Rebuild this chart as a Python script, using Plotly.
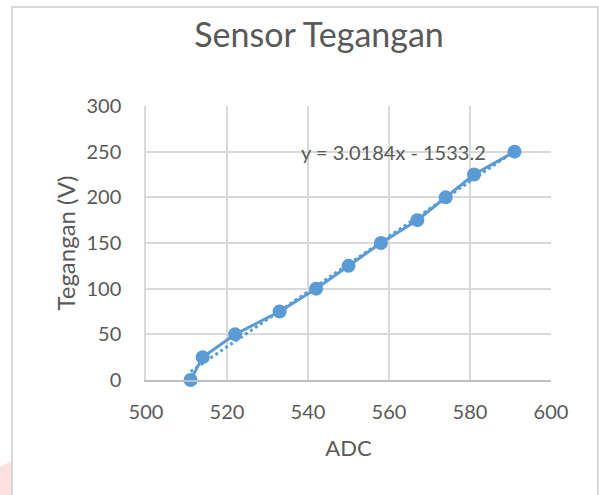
import plotly.graph_objects as go

adc = [511, 514, 522, 533, 542, 550, 558, 567, 574, 581, 591]
tegangan = [0, 25, 50, 75, 100, 125, 150, 175, 200, 225, 250]
slope = 3.0184
intercept = -1533.2
equation_label = "y = 3.0184x - 1533.2"
x_ticks = [500, 520, 540, 560, 580, 600]
y_ticks = [0, 50, 100, 150, 200, 250, 300]

W, H = 599, 495
L, R, T, B = 146, 48, 106, 115
pw, ph = W - L - R, H - T - B

def px(x):
    return (x - L) / pw

def py(y):
    return (H - B - y) / ph

blue = "#5B9BD5"
grey_text = "#595959"
grid = "#D9D9D9"
font = "Lato"

trend_x = [min(adc), max(adc)]
trend_y = [slope * v + intercept for v in trend_x]

fig = go.Figure()
fig.add_trace(go.Scatter(x=trend_x, y=trend_y, mode="lines",
                         line=dict(color=blue, width=3, dash="dot"),
                         hoverinfo="skip", showlegend=False, cliponaxis=False))
fig.add_trace(go.Scatter(x=adc, y=tegangan, mode="lines+markers",
                         line=dict(color=blue, width=3),
                         marker=dict(color=blue, size=14),
                         showlegend=False, cliponaxis=False))

fig.add_annotation(x=561, y=250, text=equation_label, showarrow=False,
                   xref="x", yref="y", font=dict(family=font, size=20, color=grey_text))

shapes = [
    dict(type="rect", xref="paper", yref="paper", x0=px(12), x1=px(598), y0=py(7), y1=py(H + 5),
         line=dict(color=grid, width=2), fillcolor="rgba(0,0,0,0)", layer="below"),
    dict(type="path", xref="paper", yref="paper",
         path=f"M {px(0)},{py(467)} L {px(11)},{py(461)} L {px(11)},{py(H)} L {px(0)},{py(H)} Z",
         line=dict(width=0), fillcolor="#FFE0E0", layer="below"),
]

fig.update_layout(
    width=W, height=H,
    margin=dict(l=L, r=R, t=T, b=B, autoexpand=False),
    paper_bgcolor="white", plot_bgcolor="white",
    font=dict(family=font, color=grey_text, size=20),
    title=dict(text="Sensor Tegangan", x=319 / W, xanchor="center", y=1 - 35 / H, yanchor="middle",
               font=dict(family=font, size=34, color=grey_text)),
    shapes=shapes,
    xaxis=dict(range=[500, 600], tickvals=x_ticks, showgrid=True, gridcolor=grid, gridwidth=1.5,
               zeroline=False, showline=True, linecolor="#BFBFBF", linewidth=1.5,
               ticks="", ticklabelstandoff=13, automargin=False,
               tickfont=dict(family=font, size=20, color=grey_text),
               title=dict(text="ADC", standoff=19, font=dict(family=font, size=22, color=grey_text))),
    yaxis=dict(range=[0, 300], tickvals=y_ticks, showgrid=True, gridcolor=grid, gridwidth=1.5,
               zeroline=False, showline=True, linecolor=grid, linewidth=1.5,
               ticks="", ticklabelstandoff=19, automargin=False,
               tickfont=dict(family=font, size=20, color=grey_text),
               title=dict(text="Tegangan (V)", standoff=4, font=dict(family=font, size=24, color=grey_text))),
)

fig.write_html("out.html", config={"displayModeBar": False},
               post_script="document.body.style.margin='0';document.body.style.overflow='hidden';")
